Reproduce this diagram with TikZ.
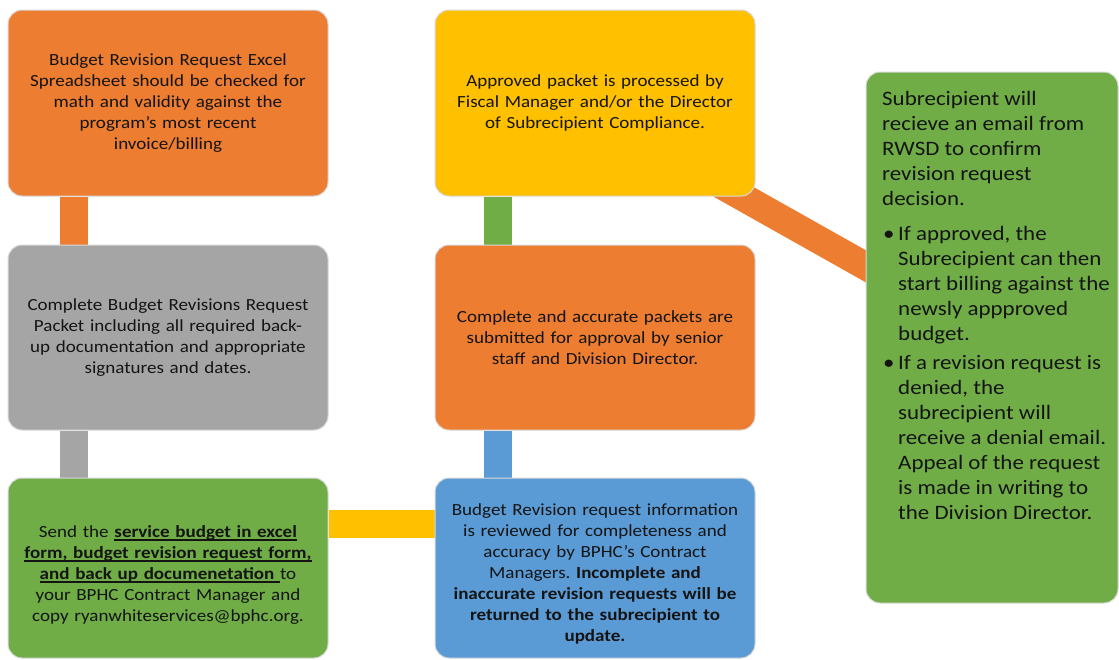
\documentclass[tikz,border=0pt]{standalone}
\usepackage{fontspec}
\setmainfont{Carlito}[FakeStretch=1.12]
\usetikzlibrary{backgrounds}
\frenchspacing
\definecolor{cOrange}{HTML}{ED7D31}
\definecolor{cGray}{HTML}{A5A5A5}
\definecolor{cGreen}{HTML}{70AD47}
\definecolor{cYellow}{HTML}{FFC000}
\definecolor{cBlue}{HTML}{5B9BD5}
\newcommand{\gbul}{\makebox[16pt][l]{\hspace{1pt}\textbullet}}
\newcommand{\gind}{\hspace*{16pt}}
\newcommand{\ub}[1]{\leavevmode\setbox0\hbox{\textbf{#1}}\rlap{\rule[-3.5pt]{\wd0}{1.2pt}}\box0}
\tikzset{
  box/.style={rounded corners=14pt, draw=black!15, line width=1pt, align=center,
    inner sep=0pt, text=black!92, font=\fontsize{17}{21}\selectfont},
  stdbox/.style={box, minimum width=320pt, minimum height=186pt, text width=310pt},
  lowbox/.style={box, minimum width=320pt, minimum height=180pt, text width=310pt},
  conn/.style={line width=28pt},
}
\begin{document}
\begin{tikzpicture}[x=1pt,y=-1pt]
\useasboundingbox (0,0) rectangle (1119,659);
\node[stdbox, fill=cOrange] (A) at (168,103) {Budget Revision Request Excel\\Spreadsheet should be checked for\\math and validity against the\\program's most recent\\invoice/billing};
\node[stdbox, fill=cGray, minimum height=185pt] (B) at (168,337.5) {Complete Budget Revisions Request\\Packet including all required back-\\up documentation and appropriate\\signatures and dates.};
\node[lowbox, fill=cGreen] (C) at (168,568) {\rule{0pt}{25pt}Send the \ub{service budget in excel}\\\ub{form, budget revision request form,}\\\ub{and back up documenetation\ }to\\your BPHC Contract Manager and\\copy ryanwhiteservices@bphc.org.};
\node[stdbox, fill=cYellow] (F) at (595,103) {Approved packet is processed by\\Fiscal Manager and/or the Director\\of Subrecipient Compliance.};
\node[stdbox, fill=cOrange, minimum height=185pt] (E) at (595,337.5) {Complete and accurate packets are\\submitted for approval by senior\\staff and Division Director.};
\node[lowbox, fill=cBlue] (D) at (595,568) {\rule{0pt}{23pt}Budget Revision request information\\is reviewed for completeness and\\accuracy by BPHC's Contract\\Managers. \textbf{Incomplete and}\\\textbf{inaccurate revision requests will be}\\\textbf{returned to the subrecipient to}\\\textbf{update.}};
\node[box, fill=cGreen, minimum width=252pt, minimum height=531pt] (G) at (992,337.5) {};
\node[anchor=north west, inner sep=0pt, align=left, text=black!92, font=\fontsize{20.5}{25}\selectfont] (Gt) at (882,91) {Subrecipient will\\recieve an email from\\RWSD to confirm\\revision request\\decision.\\[10pt]\gbul If approved, the\\\gind Subrecipient can then\\\gind start billing against the\\\gind newsly appproved\\\gind budget.\\[4pt]\gbul If a revision request is\\\gind denied, the\\\gind subrecipient will\\\gind receive a denial email.\\\gind Appeal of the request\\\gind is made in writing to\\\gind the Division Director.};
\begin{pgfonlayer}{background}
\fill[white] (0,0) rectangle (1119,659);
\draw[conn, cOrange] ([xshift=66pt]A.south west) -- ([xshift=66pt]B.north west);
\draw[conn, cGray] ([xshift=66pt]B.south west) -- ([xshift=66pt]C.north west);
\draw[conn, cYellow] ([yshift=-46pt]C.north east) -- ([yshift=-46pt]D.north west);
\draw[conn, cBlue] ([xshift=63.5pt]D.north west) -- ([xshift=63.5pt]E.south west);
\draw[conn, cGreen] ([xshift=63.5pt]E.north west) -- ([xshift=63.5pt]F.south west);
\draw[conn, cOrange] ([xshift=-35pt,yshift=12pt]F.south east) -- ([xshift=14pt,yshift=63.5pt]G.west);
\end{pgfonlayer}
\end{tikzpicture}
\end{document}
